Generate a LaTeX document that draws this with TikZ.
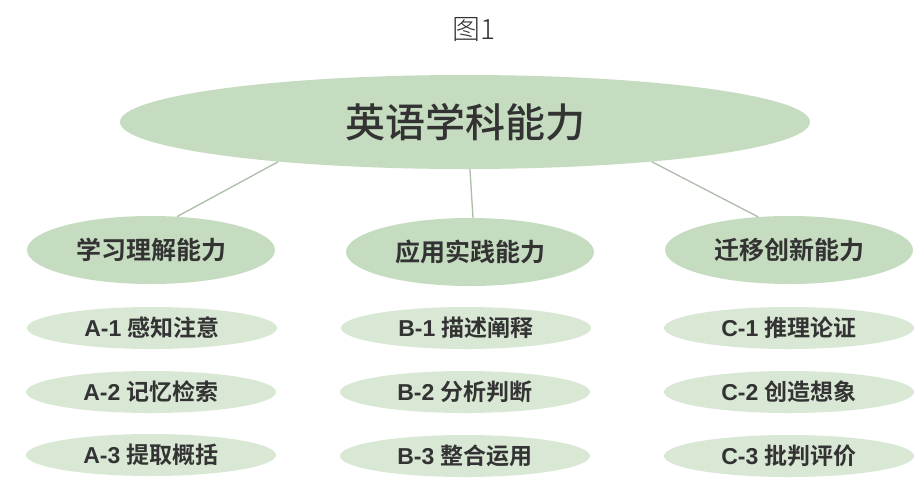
\documentclass[tikz,border=0pt]{standalone}
\usepackage{fontspec}
\setmainfont{Liberation Sans}
\newfontfamily\cjk{Noto Sans CJK SC}[BoldFont={Noto Sans CJK SC Bold}]
\newfontfamily\cjkmed{Noto Sans CJK SC Medium}
\newfontfamily\cjklight{Noto Sans CJK SC Light}
\usetikzlibrary{shapes.geometric}
\definecolor{topfill}{HTML}{C6DCC0}
\definecolor{subfill}{HTML}{D9E7D5}
\definecolor{linkc}{HTML}{ADBDA9}
\definecolor{txt}{HTML}{333333}
\tikzset{
  bigell/.style={ellipse, fill=topfill, inner sep=0pt, minimum width=690pt, minimum height=94pt,
    text=txt, font=\cjkmed\fontsize{40}{42}\selectfont},
  midell/.style={ellipse, fill=topfill, inner sep=0pt, minimum width=248pt, minimum height=68pt,
    text=txt, font=\cjk\bfseries\fontsize{25}{27}\selectfont},
  subell/.style={ellipse, fill=subfill, inner sep=0pt, minimum width=250pt, minimum height=42pt,
    text=txt, font=\bfseries\fontsize{23}{25}\selectfont},
  link/.style={draw=linkc, line width=1.3pt}
}
\newcommand{\zh}[1]{{\cjk\bfseries #1}}
\begin{document}
\begin{tikzpicture}[x=1pt, y=-1pt]
\useasboundingbox[fill=white] (0,0) rectangle (924,499);
\node[text=txt, font=\cjklight\fontsize{28}{30}\selectfont] (title) at (474,30) {图1};
\node[bigell] (root) at (465,122) {英语学科能力};
\node[midell] (ma) at (151,250) {学习理解能力};
\node[midell] (mb) at (470,252) {应用实践能力};
\node[midell] (mc) at (789,250) {迁移创新能力};
\draw[link] (root.192) -- (ma.52);
\draw[link] (root.-84) -- (mb.85);
\draw[link] (root.-12.5) -- (mc.133);
\node[subell] (a1) at (152,328) {A-1 \zh{感知注意}};
\node[subell] (a2) at (151,392) {A-2 \zh{记忆检索}};
\node[subell] (a3) at (151,455) {A-3 \zh{提取概括}};
\node[subell] (b1) at (466,328) {B-1 \zh{描述阐释}};
\node[subell] (b2) at (465,392) {B-2 \zh{分析判断}};
\node[subell] (b3) at (465,456) {B-3 \zh{整合运用}};
\node[subell] (c1) at (789,328) {C-1 \zh{推理论证}};
\node[subell] (c2) at (789,392) {C-2 \zh{创造想象}};
\node[subell] (c3) at (789,456) {C-3 \zh{批判评价}};
\end{tikzpicture}
\end{document}
